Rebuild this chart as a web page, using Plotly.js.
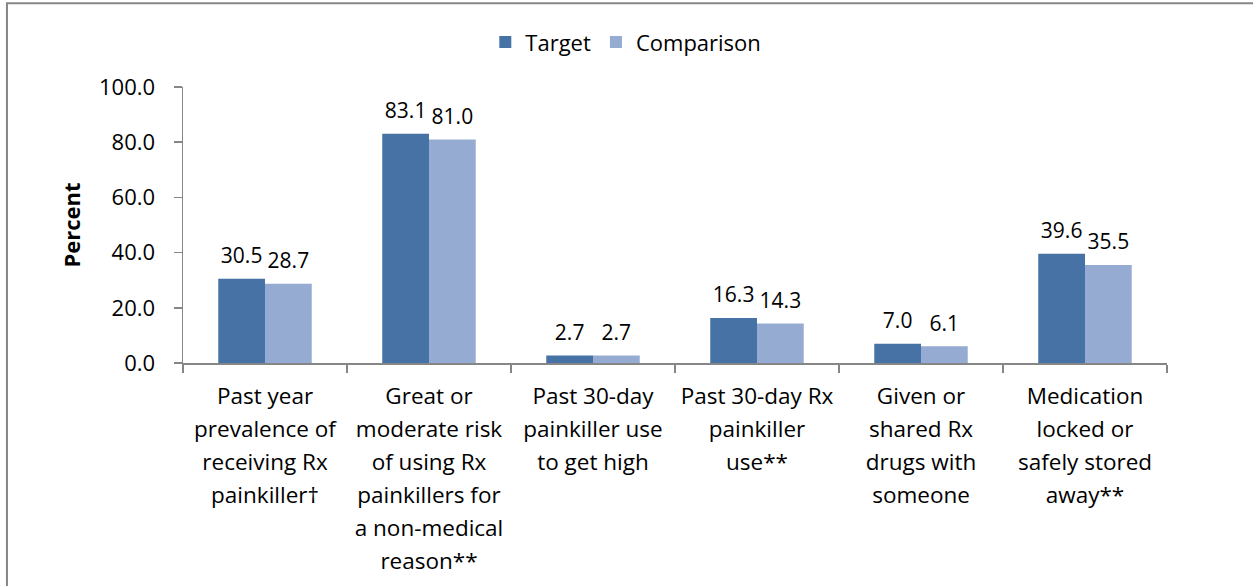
<!DOCTYPE html>
<html>
<head>
<meta charset="utf-8">
<script src="https://cdn.plot.ly/plotly-3.0.1.min.js"></script>
<style>html,body{margin:0;padding:0;background:#fff;}#chart{width:1253px;height:586px;}</style>
</head>
<body>
<div id="chart"></div>
<script>
const categoryLines = [
  ["Past year", "prevalence of", "receiving Rx", "painkiller\u2020"],
  ["Great or", "moderate risk", "of using Rx", "painkillers for", "a non-medical", "reason**"],
  ["Past 30-day", "painkiller use", "to get high"],
  ["Past 30-day Rx", "painkiller", "use**"],
  ["Given or", "shared Rx", "drugs with", "someone"],
  ["Medication", "locked or", "safely stored", "away**"]
];
const categories = categoryLines.map(l => l.join(" "));
const target = [30.5, 83.1, 2.7, 16.3, 7.0, 39.6];
const comparison = [28.7, 81.0, 2.7, 14.3, 6.1, 35.5];
const yTicks = [0, 20, 40, 60, 80, 100];

const FONT = '"Open Sans", "Noto Sans", sans-serif';
const tickText = categoryLines.map(lines => lines.map(s => '<span style="font-size:22.5px">' + s + '</span>').join('<br>'));

const gap = 0.43;
const barTrace = (name, vals, color) => ({
  type: 'bar', name: name, x: categories, y: vals,
  marker: {color: color}, hoverinfo: 'x+y+name'
});
const labelTrace = (name, vals) => ({
  type: 'scatter', mode: 'markers+text', name: name, x: categories, y: vals,
  text: vals.map(v => v.toFixed(1)), textposition: 'top center',
  textfont: {family: FONT, size: 21, color: '#000'},
  marker: {size: 15, opacity: 0}, showlegend: false, hoverinfo: 'skip', cliponaxis: false
});

const data = [
  barTrace('Target', target, '#4672A6'),
  barTrace('Comparison', comparison, '#95ABD2'),
  labelTrace('Target', target),
  labelTrace('Comparison', comparison)
];

const layout = {
  width: 1253, height: 586,
  margin: {l: 183, r: 86, t: 87, b: 223, pad: 0},
  paper_bgcolor: '#fff', plot_bgcolor: '#fff',
  font: {family: FONT, size: 22, color: '#000'},
  barmode: 'group', bargap: gap, bargroupgap: 0,
  scattermode: 'group', scattergap: gap,
  showlegend: true,
  legend: {orientation: 'h', x: 0.45, xanchor: 'center', y: 1.162, yanchor: 'middle',
           font: {family: FONT, size: 22, color: '#000'}, itemwidth: 30, traceorder: 'normal'},
  xaxis: {
    type: 'category', tickson: 'boundaries', ticks: 'outside', ticklen: 8, tickwidth: 1.5, tickcolor: '#868686',
    showline: true, linecolor: '#868686', linewidth: 1.5, showgrid: false, zeroline: false,
    tickvals: categories, ticktext: tickText, tickangle: 0, ticklabelstandoff: 9,
    tickfont: {family: FONT, size: 25.4, color: '#000'}, automargin: false, fixedrange: true
  },
  yaxis: {
    range: [0, 100], tickvals: yTicks, tickformat: '.1f', ticks: 'outside', ticklen: 8, tickwidth: 1.5,
    tickcolor: '#868686', showline: true, linecolor: '#868686', linewidth: 1.5, showgrid: false, zeroline: false,
    tickfont: {family: FONT, size: 22, color: '#000'}, ticklabelstandoff: 14,
    title: {text: '<b>Percent</b>', font: {family: FONT, size: 22, color: '#000'}, standoff: 12},
    automargin: false, fixedrange: true
  },
  shapes: [{
    type: 'rect', xref: 'paper', yref: 'paper', x0: -0.1789, x1: 1.2, y0: -0.9, y1: 1.303,
    line: {color: '#868686', width: 2}, fillcolor: 'rgba(0,0,0,0)', layer: 'above'
  }]
};

Plotly.newPlot('chart', data, layout, {displayModeBar: false, staticPlot: true});
</script>
</body>
</html>
